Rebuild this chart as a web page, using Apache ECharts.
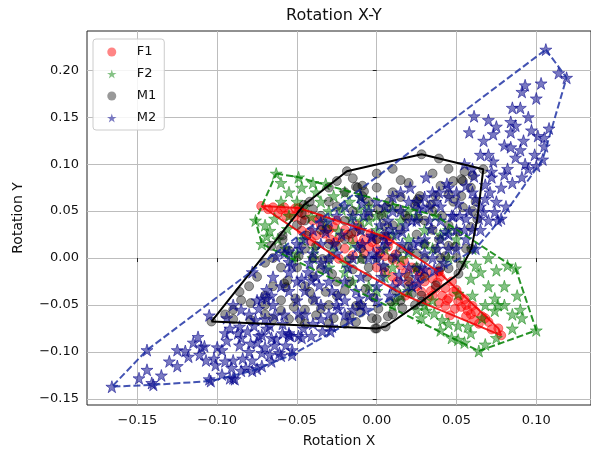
<!DOCTYPE html>
<html>
<head>
<meta charset="utf-8">
<script src="https://cdn.jsdelivr.net/npm/echarts@6/dist/echarts.min.js"></script>
<style>
  html, body { margin: 0; padding: 0; background: #fff; }
  #chart { width: 591px; height: 453px; }
</style>
</head>
<body>
<div id="chart"></div>
<script>
// ticks
var xTicks = [-0.15, -0.1, -0.05, 0, 0.05, 0.1];
var yTicks = [-0.15, -0.1, -0.05, 0, 0.05, 0.1, 0.15, 0.2];

// hull vertices (they are points of the groups too)
var f1Hull = [[-0.0724, 0.0554], [-0.0487, 0.0533], [0.0056, 0.0226], [0.0387, -0.0146], [0.0762, -0.0749],
  [0.078, -0.0823], [0.0181, -0.040], [-0.0237, -0.0008]];
var f2Hull = [[-0.063, 0.090], [-0.049, 0.086], [0.037, 0.045], [0.087, -0.011], [0.100, -0.077],
  [0.064, -0.099], [-0.072, 0.015], [-0.076, 0.040]];
var m1Hull = [[-0.1036, -0.0676], [-0.0456, 0.0565], [-0.0187, 0.0925], [0.0281, 0.1105], [0.0668, 0.0946],
  [0.0630, 0.0416], [0.0593, 0.0098], [0.0512, -0.0167], [0.0281, -0.0464], [0.0056, -0.0729], [0.000, -0.075]];
var m2Hull = [[0.106, 0.222], [0.119, 0.192], [0.104, 0.105], [0.078, 0.042], [0.062, 0.010], [0.026, -0.027],
  [-0.053, -0.103], [-0.078, -0.120], [-0.104, -0.131], [-0.140, -0.135], [-0.166, -0.137], [-0.144, -0.098]];

// other points
var f1Pts = [[-0.058, 0.054], [-0.051, 0.053], [-0.047, 0.040], [-0.047, 0.029], [-0.042, 0.028], [-0.038, 0.024],
  [-0.029, 0.020], [-0.026, 0.017], [-0.041, 0.018], [-0.049, 0.049], [-0.060, 0.052], [-0.055, 0.048],
  [-0.065, 0.054], [-0.035, 0.035], [-0.030, 0.030], [-0.020, 0.030], [-0.015, 0.020], [-0.010, 0.015],
  [-0.005, 0.012], [0.000, 0.010], [0.005, 0.002], [0.010, -0.002], [0.015, -0.008], [-0.020, 0.010],
  [0.000, -0.010], [0.010, -0.020], [0.020, -0.025], [0.025, -0.030], [0.030, -0.025], [0.026, -0.014],
  [0.039, -0.014], [0.037, -0.032], [0.041, -0.040], [0.045, -0.043], [0.048, -0.036], [0.051, -0.046],
  [0.056, -0.050], [0.057, -0.056], [0.062, -0.057], [0.049, -0.054], [0.043, -0.051], [0.039, -0.048],
  [0.061, -0.066], [0.056, -0.062], [0.046, -0.061], [0.032, -0.043], [0.047, -0.025], [0.043, -0.032],
  [0.035, -0.022], [0.052, -0.040], [0.066, -0.062], [0.070, -0.068], [-0.012, 0.035], [-0.025, 0.040],
  [0.000, 0.020], [-0.068, 0.052], [-0.062, 0.048], [-0.057, 0.045], [-0.052, 0.044], [-0.045, 0.046],
  [-0.040, 0.040], [-0.036, 0.042], [-0.033, 0.026], [-0.027, 0.033], [-0.023, 0.022], [-0.018, 0.025],
  [-0.013, 0.028], [-0.008, 0.020], [-0.003, 0.017], [0.002, 0.005], [0.007, 0.012], [0.012, 0.004],
  [0.017, -0.003], [0.022, -0.010], [0.018, -0.016], [0.027, -0.020], [0.031, -0.015], [0.034, -0.035],
  [0.038, -0.026], [0.040, -0.020], [0.044, -0.045], [0.050, -0.034], [0.053, -0.052], [0.055, -0.044],
  [0.059, -0.060], [0.064, -0.070], [0.068, -0.064], [0.072, -0.076], [0.060, -0.051], [0.035, -0.040],
  [0.028, -0.036], [0.013, -0.025], [0.005, -0.015], [-0.008, 0.005], [-0.015, 0.003], [-0.004, 0.026],
  [0.008, 0.018]];

var f2Pts = [[-0.047, 0.075], [-0.032, 0.079], [-0.027, 0.066], [-0.038, 0.070], [-0.064, 0.042], [-0.067, 0.029],
  [-0.056, 0.031], [-0.055, 0.045], [-0.041, 0.044], [-0.022, 0.052], [-0.017, 0.060], [-0.011, 0.052],
  [-0.016, 0.042], [-0.032, 0.038], [-0.024, 0.029], [-0.047, 0.020], [-0.039, 0.010], [-0.028, 0.007],
  [-0.069, 0.023], [-0.057, 0.010], [-0.053, 0.000], [0.075, -0.013], [0.082, -0.008], [0.059, -0.022],
  [0.074, -0.043], [0.068, -0.050], [0.074, -0.056], [0.051, -0.038], [0.066, -0.064], [0.057, -0.073],
  [0.051, -0.072], [0.059, -0.080], [0.036, -0.059], [0.031, -0.056], [0.041, -0.066], [0.028, -0.064],
  [0.047, -0.085], [0.091, -0.064], [0.076, -0.050], [0.051, -0.087], [0.040, -0.077], [0.062, -0.008],
  [0.080, -0.030], [0.088, -0.040], [0.085, -0.060], [0.000, 0.030], [0.010, 0.025], [0.020, 0.020],
  [-0.005, 0.040], [0.015, 0.000], [0.025, -0.010], [0.005, -0.020], [-0.010, 0.000], [0.030, 0.030],
  [0.035, 0.010], [0.020, -0.035], [0.012, -0.045], [-0.005, 0.055], [0.030, -0.050], [0.045, 0.000],
  [0.040, 0.025], [0.005, 0.048], [-0.020, -0.005], [-0.030, -0.010], [-0.015, -0.025], [0.000, -0.035],
  [0.010, -0.050], [-0.010, 0.065], [0.020, 0.050], [0.045, 0.030], [0.060, 0.010], [0.070, 0.000],
  [-0.060, 0.080], [-0.055, 0.070], [-0.060, 0.060], [-0.050, 0.060], [-0.070, 0.035], [-0.062, 0.020],
  [-0.045, 0.055], [-0.035, 0.060], [-0.040, 0.080], [-0.020, 0.070], [-0.030, 0.050], [-0.010, 0.040],
  [0.000, 0.045], [0.010, 0.055], [0.015, 0.040], [0.025, 0.045], [0.030, 0.015], [0.050, 0.020],
  [0.055, -0.005], [0.065, -0.015], [0.070, -0.030], [0.060, -0.040], [0.080, -0.050], [0.090, -0.055],
  [0.085, -0.075], [0.075, -0.085], [0.068, -0.092], [0.055, -0.090], [0.045, -0.070], [0.025, -0.055],
  [0.015, -0.040], [-0.005, -0.030], [-0.020, -0.015], [-0.040, 0.000], [-0.050, 0.005], [0.035, -0.045],
  [0.010, -0.010], [0.020, 0.005], [-0.015, 0.015], [0.005, 0.010]];

var m1Pts = [[0.039, 0.106], [0.048, 0.082], [0.053, 0.084], [0.040, 0.077], [0.027, 0.066], [0.037, 0.066],
  [0.045, 0.068], [0.053, 0.066], [0.059, 0.075], [0.025, 0.060], [0.034, 0.057], [0.048, 0.060],
  [0.054, 0.054], [0.019, 0.042], [0.026, 0.042], [0.041, 0.045], [0.059, 0.033], [0.051, 0.028],
  [0.039, 0.020], [0.037, 0.010], [0.045, 0.013], [0.056, 0.010], [0.014, 0.052], [0.001, 0.052],
  [-0.009, 0.077], [0.003, 0.045], [-0.025, 0.082], [-0.012, 0.075], [-0.009, 0.066], [0.006, 0.054],
  [0.026, 0.063], [0.024, 0.055], [0.054, 0.082], [-0.013, 0.076], [-0.008, 0.071], [-0.042, 0.060],
  [-0.025, 0.055], [-0.031, 0.031], [-0.044, 0.024], [-0.059, 0.020], [-0.066, 0.013], [-0.055, 0.008],
  [-0.038, 0.013], [-0.025, 0.013], [-0.016, 0.026], [-0.017, -0.001], [-0.009, -0.001], [-0.049, 0.002],
  [-0.034, -0.001], [-0.056, -0.024], [-0.058, -0.027], [-0.060, -0.045], [-0.060, -0.056], [-0.052, -0.052],
  [-0.051, -0.043], [-0.042, -0.036], [-0.035, -0.054], [-0.038, -0.061], [-0.032, -0.036], [-0.027, -0.064],
  [-0.017, -0.061], [-0.013, -0.051], [-0.079, -0.066], [-0.028, -0.017], [-0.035, -0.011], [-0.017, -0.025],
  [-0.006, -0.020], [-0.007, -0.033], [-0.030, -0.001], [-0.086, -0.036], [-0.079, -0.048], [-0.059, 0.024],
  [-0.057, -0.031], [-0.001, -0.075], [-0.003, -0.064], [0.007, -0.062], [0.016, -0.053], [0.024, -0.050],
  [0.022, -0.038], [0.043, 0.002], [0.049, 0.012], [0.053, -0.008], [0.045, -0.011], [0.037, -0.029],
  [0.028, -0.040], [0.009, -0.046], [0.001, -0.054], [-0.013, -0.068], [-0.020, 0.040], [-0.010, 0.030],
  [0.000, 0.020], [0.010, 0.035], [0.015, 0.010], [0.005, -0.010], [-0.015, -0.012], [0.020, -0.020],
  [0.030, 0.000], [-0.005, 0.045], [0.012, -0.035], [-0.025, -0.040], [0.025, 0.025], [-0.040, -0.020],
  [-0.045, 0.040], [0.035, 0.030], [-0.030, 0.015], [0.008, 0.060], [-0.002, -0.042], [0.018, 0.045],
  [-0.070, -0.040], [-0.065, -0.030], [-0.048, -0.065], [-0.045, -0.070], [-0.070, -0.060], [-0.090, -0.055],
  [-0.030, -0.070], [-0.020, -0.070], [-0.047, 0.048], [-0.040, 0.052], [-0.030, 0.060], [-0.020, 0.070],
  [-0.030, 0.075], [-0.015, 0.085], [0.000, 0.090], [0.010, 0.095], [0.015, 0.083], [0.000, 0.075],
  [0.010, 0.070], [0.020, 0.080], [0.035, 0.090], [0.045, 0.095], [0.055, 0.092], [0.060, 0.088],
  [0.062, 0.060], [0.060, 0.050], [0.045, 0.035], [0.030, 0.040], [0.015, 0.030], [0.005, 0.035],
  [-0.005, 0.060], [-0.015, 0.050], [-0.035, 0.045], [-0.050, 0.035], [-0.060, 0.010], [-0.070, -0.005],
  [-0.075, -0.020], [-0.080, -0.030], [-0.085, -0.045], [-0.095, -0.060], [-0.090, -0.065], [-0.070, -0.050],
  [-0.065, -0.065], [-0.055, -0.065], [-0.040, -0.045], [-0.045, -0.055], [-0.050, -0.010], [-0.045, 0.010],
  [-0.040, 0.000], [-0.025, -0.025], [-0.020, -0.035], [-0.010, -0.050], [0.000, -0.065], [0.010, -0.060],
  [0.015, -0.045], [0.020, -0.030], [0.030, -0.020], [0.040, -0.010], [0.040, 0.000], [0.050, 0.000],
  [0.025, 0.005], [0.010, 0.000], [0.000, 0.000], [-0.010, 0.010], [-0.020, 0.020], [-0.005, -0.010],
  [0.005, 0.025], [0.020, 0.010], [0.030, 0.015], [0.035, 0.050], [0.015, 0.065], [-0.035, 0.030],
  [-0.045, -0.030], [-0.030, -0.050], [-0.010, -0.058], [0.025, -0.010], [-0.060, -0.010], [-0.065, 0.000]];

var m2Pts = [[0.114, 0.197], [0.093, 0.184], [0.103, 0.186], [0.091, 0.177], [0.090, 0.160], [0.061, 0.151],
  [0.070, 0.147], [0.084, 0.145], [0.087, 0.141], [0.058, 0.134], [0.073, 0.132], [0.084, 0.134],
  [0.097, 0.136], [0.101, 0.130], [0.105, 0.128], [0.108, 0.138], [0.067, 0.125], [0.092, 0.125],
  [0.084, 0.118], [0.105, 0.119], [0.099, 0.110], [0.087, 0.107], [0.073, 0.103], [0.093, 0.100],
  [0.100, 0.098], [0.082, 0.095], [0.080, 0.089], [0.091, 0.086], [0.072, 0.086], [0.078, 0.075],
  [0.071, 0.070], [0.081, 0.055], [0.068, 0.063], [0.074, 0.049], [0.067, 0.049], [0.064, 0.042],
  [0.076, 0.040], [0.031, 0.086], [0.021, 0.075], [0.039, 0.070], [0.045, 0.075], [0.056, 0.077],
  [0.062, 0.063], [0.051, 0.058], [0.056, 0.042], [0.047, 0.045], [0.037, 0.060], [0.029, 0.054],
  [0.022, 0.040], [0.034, 0.031], [0.043, 0.028], [0.009, 0.031], [0.006, 0.026], [-0.003, 0.024],
  [-0.009, 0.015], [0.016, 0.015], [0.026, 0.017], [0.003, 0.010], [-0.009, 0.058], [0.056, 0.020],
  [0.044, 0.079], [0.061, 0.087], [0.068, 0.078], [0.072, 0.092],
  [-0.069, -0.043], [-0.074, -0.054], [-0.064, -0.061], [-0.076, -0.066], [-0.067, -0.072], [-0.059, -0.070],
  [-0.072, -0.082], [-0.063, -0.086], [-0.055, -0.080], [-0.049, -0.083], [-0.041, -0.083], [-0.046, -0.075],
  [-0.029, -0.078], [-0.053, -0.008], [-0.047, -0.022], [-0.041, -0.024], [-0.036, -0.029], [-0.030, -0.025],
  [-0.039, -0.043], [-0.049, -0.059], [-0.024, -0.040], [-0.024, -0.054], [-0.011, -0.043], [-0.017, -0.066],
  [-0.007, -0.055], [-0.078, -0.015], [-0.063, 0.002], [-0.055, 0.007],
  [-0.149, -0.128], [-0.144, -0.119], [-0.141, -0.133], [-0.125, -0.098], [-0.120, -0.099], [-0.112, -0.084],
  [-0.108, -0.094], [-0.111, -0.103], [-0.107, -0.109], [-0.102, -0.107], [-0.101, -0.114], [-0.105, -0.129],
  [-0.097, -0.098], [-0.094, -0.088], [-0.090, -0.109], [-0.091, -0.117], [-0.097, -0.124], [-0.092, -0.128],
  [-0.089, -0.129], [-0.084, -0.107], [-0.082, -0.117], [-0.078, -0.109], [-0.075, -0.118], [-0.072, -0.115],
  [-0.067, -0.103], [-0.072, -0.101], [-0.079, -0.091], [-0.086, -0.093], [-0.066, -0.110], [-0.061, -0.101],
  [-0.057, -0.093], [-0.064, -0.093], [-0.060, -0.104], [-0.053, -0.098], [-0.087, -0.080], [-0.081, -0.078],
  [-0.074, -0.083], [-0.066, -0.085], [-0.069, -0.075], [-0.077, -0.072], [-0.086, -0.073], [-0.094, -0.064],
  [-0.105, -0.061], [-0.059, -0.080], [-0.054, -0.083], [-0.069, -0.034], [-0.066, -0.040], [-0.072, -0.043],
  [-0.055, -0.004], [-0.055, -0.015], [-0.092, -0.075], [-0.115, -0.090], [-0.130, -0.110], [-0.090, -0.128],
  [-0.055, -0.082], [-0.047, -0.085], [-0.034, -0.078], [-0.028, -0.073],
  [-0.040, 0.030], [-0.035, 0.015], [-0.030, 0.040], [-0.025, 0.005], [-0.022, 0.025], [-0.018, -0.010],
  [-0.015, 0.035], [-0.012, 0.012], [-0.010, -0.020], [-0.008, 0.045], [-0.005, 0.000], [-0.003, 0.022],
  [0.000, -0.030], [0.002, 0.035], [0.004, -0.008], [0.006, 0.015], [0.008, -0.040], [0.010, 0.050],
  [0.012, 0.002], [0.014, -0.018], [0.016, 0.028], [0.020, 0.008], [0.022, -0.030], [0.025, 0.040],
  [0.028, -0.010], [0.030, 0.020], [0.035, 0.000], [0.038, 0.010], [-0.035, 0.038], [-0.048, 0.010],
  [-0.042, -0.005], [-0.038, -0.020], [-0.032, -0.012], [-0.028, -0.035], [-0.020, -0.045], [-0.015, -0.055],
  [0.000, 0.060], [-0.020, 0.055], [0.040, 0.040], [0.045, 0.025], [0.050, 0.010], [0.015, 0.070],
  [0.025, 0.060], [-0.010, 0.065], [0.036, -0.012], [0.042, -0.005], [-0.050, 0.015], [-0.058, 0.005],
  [-0.035, -0.050], [-0.045, -0.035], [0.026, 0.052], [0.033, 0.055], [0.048, 0.045], [0.055, 0.030],
  [0.060, 0.030], [-0.045, 0.020], [-0.040, 0.005], [-0.035, -0.005], [-0.030, 0.000], [-0.027, 0.015],
  [-0.020, -0.025], [-0.015, 0.000], [-0.013, -0.035], [-0.005, -0.040], [-0.002, 0.005], [0.003, -0.020],
  [0.007, 0.040], [0.012, 0.025], [0.018, 0.035], [0.020, -0.010], [0.023, 0.015], [0.030, 0.005],
  [0.033, 0.040], [0.040, 0.020], [0.045, 0.010], [0.050, 0.030], [0.052, 0.045], [0.058, 0.050],
  [0.040, 0.055], [0.045, 0.065], [0.035, 0.070], [0.050, 0.070], [0.060, 0.070], [0.065, 0.055],
  [0.020, 0.060], [0.010, 0.065], [0.005, 0.055], [-0.005, 0.050], [-0.015, 0.045], [-0.025, 0.045],
  [-0.032, 0.028], [-0.043, -0.015], [-0.050, -0.025], [-0.055, -0.035], [-0.060, -0.030], [-0.065, -0.050],
  [-0.058, -0.060], [-0.050, -0.045], [-0.045, -0.060], [-0.040, -0.070], [-0.035, -0.065], [-0.030, -0.060],
  [-0.025, -0.050], [-0.020, -0.060], [-0.010, -0.050], [0.000, -0.045], [0.010, -0.030], [0.015, -0.025],
  [0.025, -0.020], [0.030, -0.012], [0.000, 0.000], [0.005, 0.020], [-0.010, 0.030], [0.015, 0.050],
  [0.030, 0.065], [-0.080, -0.100], [-0.085, -0.085], [-0.095, -0.080], [-0.100, -0.095], [-0.110, -0.095],
  [-0.118, -0.105], [-0.125, -0.115], [-0.135, -0.125], [-0.095, -0.110], [-0.085, -0.120], [-0.070, -0.095],
  [-0.075, -0.090], [-0.070, -0.065], [-0.080, -0.060], [-0.085, -0.055], [-0.090, -0.050], [-0.075, -0.045],
  [-0.065, -0.020], [0.070, 0.110], [0.080, 0.120], [0.095, 0.150], [0.100, 0.170], [0.085, 0.160],
  [0.075, 0.140], [0.065, 0.110], [0.055, 0.100], [0.060, 0.095], [0.090, 0.115], [0.095, 0.095],
  [0.085, 0.080], [0.075, 0.060], [0.070, 0.040], [0.065, 0.030]];

var STAR = 'path://M50,2 L61.2,36.2 L97.6,36.2 L68.2,57.4 L79.4,91.6 L50,70.4 L20.6,91.6 L31.8,57.4 L2.4,36.2 L38.8,36.2 Z';

function closed(h) { return h.concat([h[0]]); }
function fmt(v) { return v.toFixed(2).replace('-', '\u2212'); }

var chart = echarts.init(document.getElementById('chart'), null, { renderer: 'canvas' });
var font = 'DejaVu Sans';
var red = 'rgba(255,0,0,0.6)';
var green = 'rgba(0,128,0,0.6)';
var black = 'rgba(0,0,0,0.5)';
var blue = 'rgba(0,0,139,0.65)';
var option = {
  animation: false,
  backgroundColor: '#fff',
  title: {
    text: 'Rotation X-Y',
    left: 286,
    top: 8,
    padding: 0,
    textStyle: { fontFamily: font, fontSize: 16, fontWeight: 'normal', color: '#111' }
  },
  legend: {
    orient: 'vertical',
    left: 93,
    top: 39,
    padding: [6, 8, 5, 14],
    itemWidth: 24,
    itemHeight: 9,
    itemGap: 8,
    backgroundColor: 'rgba(255,255,255,0.85)',
    borderColor: '#cccccc',
    borderWidth: 1,
    borderRadius: 3,
    data: [
      { name: 'F1', icon: 'circle', itemStyle: { color: red, borderWidth: 0 } },
      { name: 'F2', icon: STAR, itemStyle: { color: green, borderWidth: 0 } },
      { name: 'M1', icon: 'circle', itemStyle: { color: black, borderWidth: 0 } },
      { name: 'M2', icon: STAR, itemStyle: { color: blue, borderWidth: 0 } }
    ],
    textStyle: { fontFamily: font, fontSize: 13, color: '#111', lineHeight: 14, padding: [0, 0, 0, 8] }
  },
  grid: { left: 87, right: -2, top: 31, bottom: 46, show: true, borderColor: '#222', borderWidth: 1 },
  xAxis: {
    type: 'value',
    min: -0.1816,
    max: 0.1343,
    name: 'Rotation X',
    nameLocation: 'middle',
    nameGap: 29,
    nameTextStyle: { fontFamily: font, fontSize: 14, color: '#111' },
    axisLine: { show: false },
    axisTick: { show: true, length: 4, customValues: xTicks, lineStyle: { color: '#222' } },
    axisLabel: { customValues: xTicks, formatter: fmt, margin: 9, fontFamily: font, fontSize: 13, color: '#111' },
    splitLine: { show: true, lineStyle: { color: '#bdbdbd', width: 1 } }
  },
  yAxis: {
    type: 'value',
    min: -0.1565,
    max: 0.2418,
    name: 'Rotation Y',
    nameLocation: 'middle',
    nameRotate: 90,
    nameGap: 62,
    nameTextStyle: { fontFamily: font, fontSize: 14, color: '#111' },
    axisLine: { show: false },
    axisTick: { show: true, length: 4, customValues: yTicks, lineStyle: { color: '#222' } },
    axisLabel: { customValues: yTicks, formatter: fmt, margin: 8, fontFamily: font, fontSize: 13, color: '#111' },
    splitLine: { show: true, lineStyle: { color: '#bdbdbd', width: 1 } }
  },
  series: [
    {
      name: 'F1', type: 'scatter', symbol: 'circle', symbolSize: 9, z: 2,
      itemStyle: { color: red, borderColor: red, borderWidth: 1 },
      data: f1Pts.concat(f1Hull)
    },
    {
      name: 'F2', type: 'scatter', symbol: STAR, symbolSize: 12, z: 2,
      itemStyle: { color: green, borderColor: green, borderWidth: 1 },
      data: f2Pts.concat(f2Hull)
    },
    {
      name: 'M1', type: 'scatter', symbol: 'circle', symbolSize: 9, z: 2,
      itemStyle: { color: black, borderColor: black, borderWidth: 1 },
      data: m1Pts.concat(m1Hull)
    },
    {
      name: 'M2', type: 'scatter', symbol: STAR, symbolSize: 12, z: 2,
      itemStyle: { color: blue, borderColor: blue, borderWidth: 1 },
      data: m2Pts.concat(m2Hull)
    },
    {
      name: 'F1 hull', type: 'line', symbol: 'none', z: 5, silent: true,
      lineStyle: { color: 'rgba(240,0,0,0.85)', width: 2 },
      data: closed(f1Hull)
    },
    {
      name: 'F2 hull', type: 'line', symbol: 'none', z: 5, silent: true,
      lineStyle: { color: 'rgba(0,128,0,0.85)', width: 2, type: [7, 3] },
      data: closed(f2Hull)
    },
    {
      name: 'M1 hull', type: 'line', symbol: 'none', z: 5, silent: true,
      lineStyle: { color: '#000', width: 2 },
      data: closed(m1Hull)
    },
    {
      name: 'M2 hull', type: 'line', symbol: 'none', z: 5, silent: true,
      lineStyle: { color: 'rgba(20,40,160,0.8)', width: 2, type: [7, 3] },
      data: closed(m2Hull)
    }
  ]
};
chart.setOption(option);
</script>
</body>
</html>
